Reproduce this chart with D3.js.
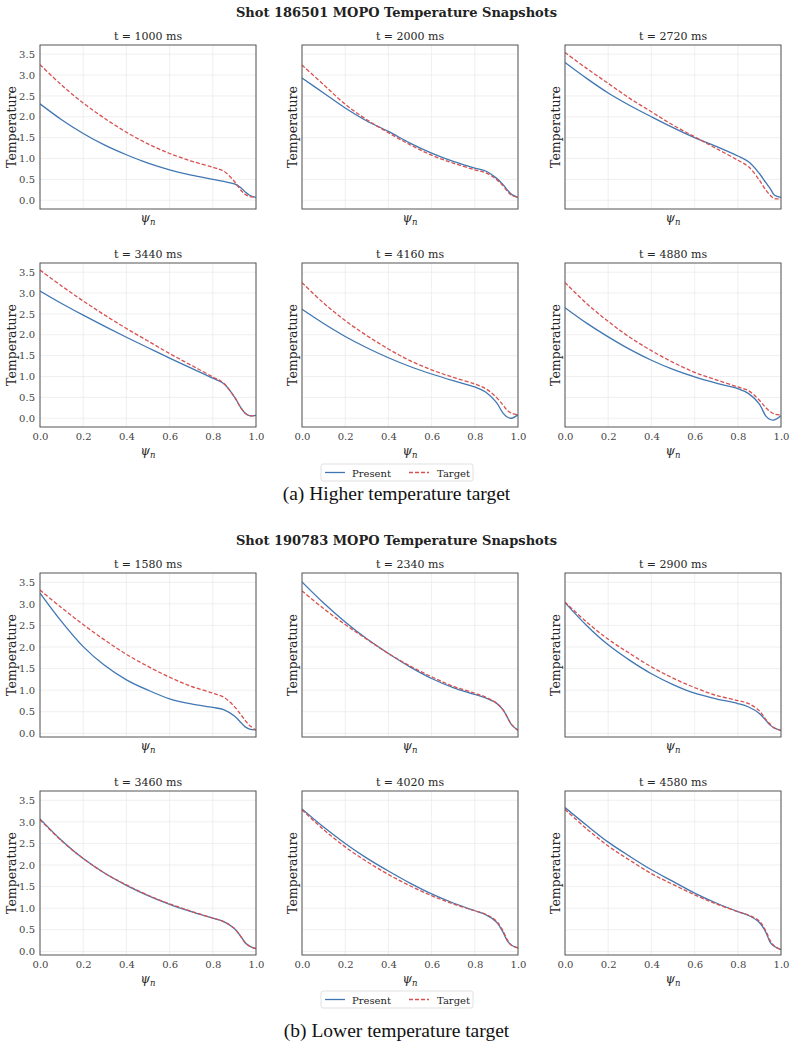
<!DOCTYPE html>
<html>
<head>
<meta charset="utf-8">
<script src="https://cdn.jsdelivr.net/npm/d3@7"></script>
<style>
  body { margin: 0; background: #fff; }
  svg text { font-family: "DejaVu Serif", serif; }
</style>
</head>
<body>
<svg id="chart"></svg>
<script>
const psi = [0, 0.1, 0.2, 0.3, 0.4, 0.5, 0.6, 0.7, 0.8, 0.85, 0.9, 0.93, 0.95, 0.97, 1.0];
const yTicks = [0, 0.5, 1.0, 1.5, 2.0, 2.5, 3.0, 3.5];
const xTicks = [0, 0.2, 0.4, 0.6, 0.8, 1.0];

// shot 186501 (higher temperature target)
const timesA = [1000, 2000, 2720, 3440, 4160, 4880];
const presentA = [
  [2.31, 1.93, 1.60, 1.32, 1.09, 0.89, 0.73, 0.60, 0.50, 0.45, 0.39, 0.30, 0.20, 0.12, 0.07],
  [2.93, 2.57, 2.21, 1.90, 1.65, 1.37, 1.13, 0.93, 0.77, 0.70, 0.53, 0.38, 0.25, 0.14, 0.07],
  [3.30, 2.92, 2.57, 2.27, 2.00, 1.74, 1.50, 1.29, 1.06, 0.92, 0.64, 0.42, 0.28, 0.12, 0.07],
  [3.05, 2.75, 2.47, 2.20, 1.94, 1.69, 1.44, 1.20, 0.96, 0.83, 0.51, 0.25, 0.12, 0.06, 0.07],
  [2.61, 2.27, 1.96, 1.69, 1.45, 1.24, 1.06, 0.90, 0.75, 0.63, 0.38, 0.13, 0.03, 0.00, 0.08],
  [2.65, 2.28, 1.95, 1.65, 1.39, 1.17, 0.99, 0.84, 0.71, 0.59, 0.34, 0.05, -0.03, -0.04, 0.06]
];
const targetA = [
  [3.25, 2.76, 2.33, 1.96, 1.63, 1.35, 1.12, 0.94, 0.79, 0.70, 0.45, 0.24, 0.14, 0.09, 0.07],
  [3.24, 2.77, 2.30, 1.93, 1.62, 1.33, 1.08, 0.89, 0.73, 0.66, 0.50, 0.35, 0.22, 0.12, 0.07],
  [3.54, 3.16, 2.80, 2.44, 2.12, 1.80, 1.52, 1.24, 0.96, 0.80, 0.48, 0.24, 0.12, 0.04, 0.04],
  [3.55, 3.17, 2.81, 2.47, 2.15, 1.85, 1.55, 1.27, 0.99, 0.84, 0.51, 0.25, 0.12, 0.06, 0.07],
  [3.25, 2.76, 2.34, 1.98, 1.66, 1.38, 1.16, 0.98, 0.82, 0.71, 0.50, 0.32, 0.19, 0.12, 0.08],
  [3.25, 2.75, 2.32, 1.94, 1.62, 1.34, 1.10, 0.92, 0.75, 0.66, 0.43, 0.25, 0.16, 0.10, 0.08]
];

// shot 190783 (lower temperature target)
const timesB = [1580, 2340, 2900, 3460, 4020, 4580];
const presentB = [
  [3.25, 2.59, 2.01, 1.57, 1.24, 1.00, 0.80, 0.68, 0.60, 0.55, 0.40, 0.25, 0.15, 0.10, 0.08],
  [3.51, 3.02, 2.58, 2.19, 1.85, 1.54, 1.27, 1.06, 0.90, 0.82, 0.70, 0.55, 0.38, 0.20, 0.07],
  [3.03, 2.50, 2.05, 1.69, 1.38, 1.13, 0.93, 0.80, 0.69, 0.61, 0.46, 0.30, 0.19, 0.12, 0.07],
  [3.07, 2.57, 2.15, 1.81, 1.53, 1.29, 1.09, 0.92, 0.77, 0.69, 0.53, 0.34, 0.20, 0.12, 0.06],
  [3.30, 2.88, 2.50, 2.16, 1.86, 1.58, 1.33, 1.12, 0.94, 0.85, 0.68, 0.45, 0.25, 0.14, 0.08],
  [3.33, 2.92, 2.53, 2.20, 1.89, 1.62, 1.35, 1.12, 0.92, 0.83, 0.67, 0.44, 0.21, 0.11, 0.04]
];
const targetB = [
  [3.32, 2.91, 2.52, 2.16, 1.83, 1.55, 1.30, 1.09, 0.93, 0.84, 0.62, 0.43, 0.30, 0.18, 0.08],
  [3.30, 2.89, 2.52, 2.18, 1.85, 1.56, 1.31, 1.09, 0.93, 0.84, 0.70, 0.55, 0.38, 0.20, 0.07],
  [3.04, 2.58, 2.18, 1.85, 1.54, 1.28, 1.06, 0.88, 0.76, 0.69, 0.52, 0.32, 0.21, 0.12, 0.07],
  [3.05, 2.56, 2.15, 1.81, 1.54, 1.30, 1.10, 0.93, 0.77, 0.69, 0.53, 0.34, 0.20, 0.12, 0.06],
  [3.28, 2.82, 2.42, 2.08, 1.78, 1.52, 1.29, 1.10, 0.94, 0.86, 0.70, 0.48, 0.27, 0.14, 0.08],
  [3.29, 2.84, 2.44, 2.11, 1.80, 1.55, 1.31, 1.10, 0.92, 0.84, 0.70, 0.47, 0.25, 0.12, 0.04]
];

const width = 793, height = 1049;
const blue = "#4077b2", red = "#d9504f";
const colX = [40, 302, 565];
const panelW = 216, panelH = 164;

const svg = d3.select("#chart").attr("width", width).attr("height", height);

function drawFigure(opts) {
  svg.append("text")
     .attr("x", width / 2).attr("y", opts.titleY)
     .attr("text-anchor", "middle")
     .attr("font-weight", "bold")
     .attr("font-size", 13)
     .attr("fill", "#222")
     .text(opts.title);

  const x = d3.scaleLinear().domain([0, 1]).range([0, panelW]);
  const y = d3.scaleLinear().domain(opts.yDomain).range([panelH, 0]);
  const line = d3.line().x((d, i) => x(psi[i])).y(d => y(d)).curve(d3.curveCatmullRom.alpha(0.5));

  opts.times.forEach(function(t, k) {
    const row = Math.floor(k / 3), col = k % 3;
    const g = svg.append("g")
                 .attr("transform", "translate(" + colX[col] + "," + opts.rowY[row] + ")");

    // grid
    g.append("g").selectAll("line").data(xTicks).enter().append("line")
     .attr("x1", d => x(d)).attr("x2", d => x(d)).attr("y1", 0).attr("y2", panelH)
     .attr("stroke", "#ebebeb").attr("stroke-width", 0.8);
    g.append("g").selectAll("line").data(yTicks).enter().append("line")
     .attr("y1", d => y(d)).attr("y2", d => y(d)).attr("x1", 0).attr("x2", panelW)
     .attr("stroke", "#ebebeb").attr("stroke-width", 0.8);

    const clipId = "clip" + opts.id + k;
    g.append("clipPath").attr("id", clipId)
     .append("rect").attr("width", panelW).attr("height", panelH);

    g.append("path").datum(opts.present[k])
     .attr("clip-path", "url(#" + clipId + ")")
     .attr("fill", "none").attr("stroke", blue).attr("stroke-width", 1.3)
     .attr("d", line);
    g.append("path").datum(opts.target[k])
     .attr("clip-path", "url(#" + clipId + ")")
     .attr("fill", "none").attr("stroke", red).attr("stroke-width", 1.3)
     .attr("stroke-dasharray", "4,2")
     .attr("d", line);

    g.append("rect").attr("width", panelW).attr("height", panelH)
     .attr("fill", "none").attr("stroke", "#555").attr("stroke-width", 1);

    g.append("text")
     .attr("x", panelW / 2).attr("y", -5)
     .attr("text-anchor", "middle").attr("font-size", 11).attr("fill", "#262626")
     .text("t = " + t + " ms");

    if (col === 0) {
      const yAxis = g.append("g").call(d3.axisLeft(y).tickValues(yTicks).tickFormat(d3.format(".1f")).tickSize(0).tickPadding(5));
      yAxis.select(".domain").remove();
      yAxis.selectAll("text").attr("font-size", 10).attr("fill", "#444")
           .attr("font-family", "DejaVu Serif, serif");
    }
    if (row === 1) {
      const xAxis = g.append("g").attr("transform", "translate(0," + panelH + ")")
                     .call(d3.axisBottom(x).tickValues(xTicks).tickFormat(d3.format(".1f")).tickSize(0).tickPadding(6));
      xAxis.select(".domain").remove();
      xAxis.selectAll("text").attr("font-size", 10).attr("fill", "#444")
           .attr("font-family", "DejaVu Serif, serif");
    }

    const yl = col === 0 ? -28 : -9;
    g.append("text")
     .attr("transform", "translate(" + yl + "," + (panelH / 2) + ") rotate(-90)")
     .attr("text-anchor", "middle").attr("dy", "0.35em")
     .attr("font-size", 12.5).attr("fill", "#262626")
     .text("Temperature");

    const xl = g.append("text")
     .attr("x", panelW / 2).attr("y", panelH + (row === 1 ? 28 : 13))
     .attr("text-anchor", "middle").attr("font-size", 12).attr("fill", "#262626")
     .attr("font-style", "italic");
    xl.append("tspan").text("ψ");
    xl.append("tspan").attr("font-size", 8.5).attr("dy", 3).text("n");
  });

  // legend
  const lg = svg.append("g").attr("transform", "translate(321," + opts.legendY + ")");
  lg.append("rect").attr("width", 152).attr("height", 17).attr("rx", 2)
    .attr("fill", "#fff").attr("stroke", "#d9d9d9").attr("stroke-width", 0.8);
  lg.append("line").attr("x1", 4).attr("x2", 24).attr("y1", 8.5).attr("y2", 8.5)
    .attr("stroke", blue).attr("stroke-width", 1.3);
  lg.append("text").attr("x", 31).attr("y", 12.5).attr("font-size", 10).attr("fill", "#262626").text("Present");
  lg.append("line").attr("x1", 88).attr("x2", 108).attr("y1", 8.5).attr("y2", 8.5)
    .attr("stroke", red).attr("stroke-width", 1.3).attr("stroke-dasharray", "4,2");
  lg.append("text").attr("x", 116).attr("y", 12.5).attr("font-size", 10).attr("fill", "#262626").text("Target");

  svg.append("text")
     .attr("x", width / 2).attr("y", opts.captionY)
     .attr("text-anchor", "middle")
     .style("font-family", "'Liberation Serif', 'Times New Roman', serif")
     .attr("font-size", 19.5).attr("fill", "#111")
     .text(opts.caption);
}

drawFigure({
  id: "a", title: "Shot 186501 MOPO Temperature Snapshots", titleY: 17,
  rowY: [45, 263], yDomain: [-0.21, 3.72],
  times: timesA, present: presentA, target: targetA,
  legendY: 464, caption: "(a) Higher temperature target", captionY: 500
});

drawFigure({
  id: "b", title: "Shot 190783 MOPO Temperature Snapshots", titleY: 545,
  rowY: [573, 791], yDomain: [-0.085, 3.715],
  times: timesB, present: presentB, target: targetB,
  legendY: 991, caption: "(b) Lower temperature target", captionY: 1037
});
</script>
</body>
</html>
